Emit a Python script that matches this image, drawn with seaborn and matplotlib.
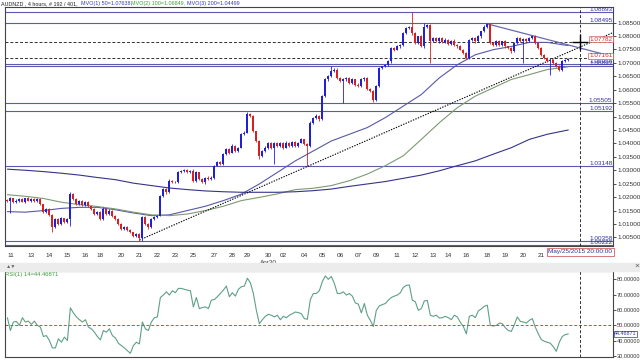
import numpy as np
import pandas as pd
import seaborn as sns
import matplotlib.pyplot as plt
from matplotlib.patches import Rectangle

# 4h candles AUDNZD (close, upper/lower wick in pips)
first_open = 1.0190
closes = [
    1.0187, 1.0195, 1.0181, 1.0187, 1.0193, 1.0183, 1.0195, 1.0187, 1.0193, 1.0184,
    1.0193, 1.0174, 1.0144, 1.0156, 1.0134, 1.0088, 1.0119, 1.0100, 1.0121, 1.0107,
    1.0119, 1.0212, 1.0193, 1.0174, 1.0187, 1.0171, 1.0181, 1.0168, 1.0156, 1.0138,
    1.0144, 1.0119, 1.0156, 1.0138, 1.0150, 1.0131, 1.0119, 1.0100, 1.0082, 1.0088,
    1.0076, 1.0069, 1.0057, 1.0063, 1.0047, 1.0125, 1.0100, 1.0088, 1.0119, 1.0125,
    1.0131, 1.0205, 1.0230, 1.0218, 1.0261, 1.0255, 1.0257, 1.0292, 1.0298, 1.0302,
    1.0292, 1.0298, 1.0261, 1.0292, 1.0267, 1.0255, 1.0273, 1.0267, 1.0273, 1.0317,
    1.0329, 1.0323, 1.0360, 1.0378, 1.0366, 1.0391, 1.0372, 1.0384, 1.0434, 1.0440,
    1.0508, 1.0502, 1.0446, 1.0409, 1.0354, 1.0372, 1.0384, 1.0403, 1.0384, 1.0403,
    1.0391, 1.0403, 1.0384, 1.0403, 1.0391, 1.0405, 1.0391, 1.0403, 1.0415, 1.0397,
    1.0391, 1.0477, 1.0496, 1.0502, 1.0489, 1.0576, 1.0638, 1.0650, 1.0668, 1.0675,
    1.0644, 1.0631, 1.0638, 1.0644, 1.0625, 1.0638, 1.0619, 1.0613, 1.0638, 1.0644,
    1.0601, 1.0594, 1.0563, 1.0613, 1.0681, 1.0687, 1.0693, 1.0706, 1.0755, 1.0749,
    1.0761, 1.0767, 1.0810, 1.0829, 1.0835, 1.0810, 1.0773, 1.0798, 1.0761, 1.0835,
    1.0841, 1.0780, 1.0792, 1.0780, 1.0792, 1.0776, 1.0786, 1.0771, 1.0783, 1.0767,
    1.0761, 1.0749, 1.0736, 1.0718, 1.0786, 1.0792, 1.0780, 1.0798, 1.0817, 1.0835,
    1.0845, 1.0773, 1.0767, 1.0780, 1.0767, 1.0780, 1.0761, 1.0755, 1.0743, 1.0773,
    1.0792, 1.0780, 1.0788, 1.0780, 1.0792, 1.0798, 1.0773, 1.0755, 1.0730, 1.0718,
    1.0706, 1.0712, 1.0699, 1.0687, 1.0675, 1.0706, 1.0712, 1.0714,
]
upper_pips = [
    3, 4, 2, 5, 3, 4, 3, 5, 2, 4, 4, 3, 2, 5, 3, 2, 4, 3, 5, 3,
    3, 8, 5, 3, 4, 2, 4, 3, 2, 4, 4, 3, 6, 3, 4, 2, 3, 4, 3, 4,
    3, 4, 2, 4, 3, 4, 5, 3, 4, 3, 3, 4, 5, 3, 6, 3, 4, 5, 4, 3,
    4, 3, 5, 4, 3, 4, 3, 5, 4, 3, 4, 5, 3, 4, 3, 5, 4, 3, 4, 5,
    9, 4, 3, 2, 3, 4, 5, 3, 4, 3, 3, 4, 3, 5, 3, 4, 3, 4, 5, 3,
    3, 5, 4, 6, 3, 4, 5, 3, 19, 4, 4, 3, 5, 4, 3, 4, 3, 5, 4, 3,
    3, 4, 3, 5, 4, 3, 4, 3, 5, 4, 4, 3, 5, 4, 3, 55, 4, 3, 5, 13,
    4, 3, 5, 3, 4, 3, 5, 4, 3, 4, 3, 4, 3, 5, 4, 3, 4, 5, 3, 4,
    3, 4, 3, 5, 4, 3, 4, 3, 5, 4, 4, 3, 5, 3, 4, 3, 5, 4, 3, 4,
    3, 4, 3, 5, 4, 3, 4, 3,
]
lower_pips = [
    4, 45, 3, 4, 5, 3, 4, 3, 5, 4, 3, 4, 5, 3, 6, 18, 4, 5, 3, 4,
    4, 25, 3, 4, 3, 5, 3, 4, 5, 3, 3, 5, 3, 4, 3, 5, 4, 3, 5, 4,
    4, 3, 5, 4, 9, 9, 3, 5, 4, 3, 4, 3, 4, 5, 3, 4, 3, 4, 3, 4,
    3, 4, 3, 5, 4, 3, 5, 3, 4, 5, 3, 4, 5, 3, 4, 3, 5, 4, 3, 4,
    3, 5, 4, 3, 13, 4, 3, 5, 4, 59, 4, 3, 5, 3, 4, 3, 5, 4, 3, 4,
    75, 4, 3, 4, 5, 3, 4, 5, 3, 4, 4, 3, 80, 4, 3, 5, 4, 3, 4, 5,
    4, 3, 9, 4, 3, 5, 4, 3, 5, 4, 3, 5, 4, 3, 4, 5, 3, 4, 3, 5,
    4, 81, 3, 4, 5, 3, 4, 3, 5, 4, 4, 3, 5, 4, 3, 4, 5, 3, 4, 3,
    5, 4, 3, 4, 5, 3, 4, 3, 5, 4, 3, 4, 80, 4, 3, 5, 4, 3, 4, 5,
    4, 50, 4, 3, 7, 4, 3, 4,
]

# moving averages read every day (candle index, value)
ma_idx = [0, 6, 12, 18, 24, 30, 36, 42, 48, 54, 60, 66, 72, 78, 84, 90,
          96, 102, 108, 114, 120, 126, 132, 138, 144, 150, 156, 162, 168, 174, 180, 187]
ma50 = [1.0146, 1.0144, 1.0150, 1.0158, 1.0162, 1.0162, 1.0153, 1.0141, 1.0131, 1.0134,
        1.0150, 1.0166, 1.0187, 1.0211, 1.0249, 1.0292, 1.0335, 1.0372, 1.0409, 1.0434,
        1.0459, 1.0496, 1.0539, 1.0582, 1.0644, 1.0693, 1.0730, 1.0749, 1.0761, 1.0776,
        1.0776, 1.0764]
ma100 = [1.0209, 1.0203, 1.0195, 1.0181, 1.0172, 1.0165, 1.0156, 1.0144, 1.0134, 1.0131,
         1.0137, 1.0150, 1.0166, 1.0187, 1.0199, 1.0212, 1.0228, 1.0233, 1.0243, 1.0261,
         1.0286, 1.0317, 1.0354, 1.0415, 1.0477, 1.0533, 1.0576, 1.0607, 1.0638, 1.0656,
         1.0675, 1.0685]
ma200 = [1.0304, 1.0300, 1.0295, 1.0289, 1.0282, 1.0273, 1.0265, 1.0252, 1.0243, 1.0234,
         1.0228, 1.0223, 1.0220, 1.0218, 1.0218, 1.0218, 1.0220, 1.0224, 1.0230, 1.0240,
         1.0249, 1.0258, 1.0270, 1.0282, 1.0298, 1.0317, 1.0335, 1.0360, 1.0384, 1.0415,
         1.0434, 1.0450]

rsi = [
    55.0, 46.7, 52.2, 52.6, 50.0, 55.0, 52.2, 52.8, 50.7, 52.8,
    50.0, 48.9, 42.8, 43.4, 40.2, 35.4, 35.4, 41.3, 39.1, 42.4,
    40.2, 61.4, 58.1, 55.5, 53.7, 52.2, 53.7, 48.9, 47.8, 45.6,
    42.8, 40.6, 46.7, 45.6, 47.8, 43.4, 41.9, 38.4, 36.9, 35.4,
    33.6, 31.9, 36.9, 39.1, 38.0, 52.2, 47.8, 46.7, 52.2, 55.0,
    55.5, 68.1, 69.7, 71.8, 69.7, 72.5, 71.2, 74.0, 74.0, 73.4,
    72.9, 72.5, 62.0, 68.1, 60.9, 61.6, 62.0, 60.9, 66.4, 66.8,
    68.6, 70.7, 72.9, 75.5, 68.6, 71.2, 69.0, 73.4, 75.1, 75.5,
    80.6, 77.7, 70.7, 59.8, 51.1, 53.7, 55.9, 57.2, 56.6, 55.5,
    56.6, 53.7, 55.9, 55.0, 56.6, 57.6, 58.7, 58.3, 57.6, 54.4,
    54.0, 66.8, 70.7, 70.7, 72.5, 78.5, 82.1, 79.9, 81.7, 77.3,
    70.7, 70.7, 71.8, 69.7, 70.7, 69.0, 64.6, 63.8, 58.1, 64.2,
    56.6, 53.3, 49.3, 59.8, 62.7, 63.5, 64.2, 66.4, 68.1, 69.0,
    69.7, 71.2, 74.7, 76.0, 76.2, 66.4, 65.3, 59.8, 60.9, 65.9,
    66.2, 56.6, 55.9, 56.6, 54.8, 55.0, 55.9, 55.0, 53.7, 56.6,
    55.5, 52.0, 49.3, 44.5, 55.9, 56.6, 55.0, 59.4, 60.7, 62.4,
    63.1, 50.0, 49.6, 50.0, 51.5, 51.1, 48.5, 46.7, 46.1, 50.4,
    55.5, 52.6, 52.2, 51.5, 53.3, 54.4, 48.9, 44.5, 40.8, 39.7,
    39.1, 38.4, 36.2, 33.2, 39.1, 42.8, 44.1, 44.46871,
]

# drawn objects
blue_levels = [1.08893, 1.08495, 1.06958, 1.06893, 1.05505, 1.05192, 1.03148, 1.00358, 1.00222]
red_levels = [1.07782, 1.07161]
up_trend = ([44, 203], [1.0040, 1.0818])
down_trend = ([160, 203], [1.0845, 1.0720])
cursor_idx = 191

tick_pos = [1, 8, 14, 20, 26, 31, 38, 44, 50, 56, 62, 69, 75, 80, 87, 92, 99, 105,
            111, 117, 123, 130, 136, 142, 147, 153, 160, 166, 172, 178]
tick_lab = ['11', '13', '14', '15', '16', '18', '20', '21', '22', '23', '25', '27', '28',
            '29', '30', '02', '04', '05', '06', '07', '09', '11', '12', '13', '14', '16',
            '18', '19', '20', '21']

df = pd.DataFrame({'close': closes, 'up': upper_pips, 'dn': lower_pips})
df['i'] = np.arange(len(df))
df['open'] = df['close'].shift(1).fillna(first_open)
df['high'] = df[['open', 'close']].max(axis=1) + df['up'] * 1e-4
df['low'] = df[['open', 'close']].min(axis=1) - df['dn'] * 1e-4
df['color'] = np.where(df['close'] >= df['open'], '#2020d8', '#d82020')

ma_df = pd.DataFrame({'i': ma_idx, 'ma50': ma50, 'ma100': ma100, 'ma200': ma200})
rsi_df = pd.DataFrame({'i': np.arange(len(rsi)), 'rsi': rsi})

sns.set_style('white')
plt.rcParams['font.family'] = ['Liberation Sans', 'DejaVu Sans']

fig = plt.figure(figsize=(6.4, 3.6), dpi=100)
fig.patches.append(Rectangle((0, 1 - 271 / 360), 1, 8 / 360, transform=fig.transFigure,
                             color='#ececec', zorder=0))
ax = fig.add_axes([5 / 640, 1 - 246 / 360, 608 / 640, 239 / 360])
ax2 = fig.add_axes([5 / 640, 1 - 357 / 360, 608 / 640, 86 / 360])
xlim = (-0.8, 201.9)

# candles
ax.vlines(df['i'], df['low'], df['high'], colors=df['color'], lw=0.6, zorder=3)
ax.bar(df['i'], (df['close'] - df['open']).abs().clip(lower=0.00008),
       bottom=df[['open', 'close']].min(axis=1), width=0.7, color=df['color'],
       lw=0, zorder=4)

# moving averages
sns.lineplot(data=ma_df, x='i', y='ma50', ax=ax, color='#5858a8', lw=0.8, zorder=2)
sns.lineplot(data=ma_df, x='i', y='ma100', ax=ax, color='#7c9a72', lw=0.8, zorder=2)
sns.lineplot(data=ma_df, x='i', y='ma200', ax=ax, color='#34348a', lw=0.8, zorder=2)

# levels
for lv in blue_levels:
    ax.axhline(lv, color='#5a5ab0', lw=0.8, zorder=1)
    ax.text(0.999, lv, f'{lv:.5f}', transform=ax.get_yaxis_transform(), ha='right',
            va='bottom', fontsize=4.6, color='#3030a8')
for lv in red_levels:
    ax.axhline(lv, color='#303030', lw=0.7, ls=(0, (3, 2)), zorder=1)
    ax.text(0.999, lv, f'{lv:.5f}', transform=ax.get_yaxis_transform(), ha='right',
            va='bottom', fontsize=4.6, color='#d03030',
            bbox=dict(boxstyle='square,pad=0.1', fc='white', ec='#d06060', lw=0.5))

ax.plot(*up_trend, color='black', lw=0.8, ls=(0, (1.2, 1.2)), zorder=2)
ax.plot(*down_trend, color='#6a6ab0', lw=0.9, zorder=2)
ax.axvline(cursor_idx, color='#303030', lw=0.7, ls=(0, (3, 2)), zorder=5)
ax.plot([cursor_idx], [red_levels[0]], marker='+', ms=11, mew=1.0, color='black', zorder=6)

ax.set_xlim(*xlim)
ax.set_ylim(1.0018, 1.09078)
ax.set_xlabel('')
ax.set_ylabel('')
ax.set_xticks(tick_pos)
ax.set_xticklabels(tick_lab)
ax.yaxis.tick_right()
ax.set_yticks(np.arange(1.005, 1.0851, 0.005))
ax.yaxis.set_major_formatter(plt.FormatStrFormatter('%.5f'))
ax.tick_params(axis='both', labelsize=4.6, length=2, width=0.6, pad=1, colors='#333333')
ax.tick_params(axis='x', pad=3)
ax.text(tick_pos[14], -0.058, 'Apr30', transform=ax.get_xaxis_transform(), ha='center',
        va='top', fontsize=4.6, color='#333333')
ax.text(cursor_idx, -0.014, 'May/25/2015 20:00:00', transform=ax.get_xaxis_transform(),
        ha='center', va='top', fontsize=4.6, color='#3030a8', zorder=7,
        bbox=dict(boxstyle='square,pad=0.25', fc='white', ec='#d06060', lw=0.6))

# RSI panel
sns.lineplot(data=rsi_df, x='i', y='rsi', ax=ax2, color='#5f9f8a', lw=0.8)
ax2.axhline(50, color='#d04848', lw=0.7, ls=(0, (3, 2)))
ax2.axvline(cursor_idx, color='#303030', lw=0.7, ls=(0, (3, 2)))
ax2.set_xlim(*xlim)
ax2.set_ylim(29.5, 85.3)
ax2.set_xticks([])
ax2.set_xlabel('')
ax2.set_ylabel('')
ax2.yaxis.tick_right()
ax2.set_yticks([30, 40, 50, 60, 70, 80])
ax2.yaxis.set_major_formatter(plt.FormatStrFormatter('%.5f'))
ax2.tick_params(axis='y', labelsize=4.1, length=2, width=0.6, pad=1, colors='#333333')
ax2.text(1.002, rsi[-1], f'{rsi[-1]:.5f}', transform=ax2.get_yaxis_transform(),
         ha='left', va='center', fontsize=3.9, color='#3030a8',
         bbox=dict(boxstyle='square,pad=0.1', fc='white', ec='#3030a8', lw=0.5))
ax2.text(0.0, 0.985, 'RSI(1) 14=44.46871', transform=ax2.transAxes, ha='left', va='top',
         fontsize=4.2, color='#3a9a3a')

for a in (ax, ax2):
    for s in a.spines.values():
        s.set_color('#444444')
        s.set_linewidth(0.8)

# header
hy = 1 - 3.5 / 360
fig.text(1 / 640, hy, 'AUDNZD , 4 hours, # 192 / 401,', fontsize=3.9, color='#222222', va='center')
fig.text(81 / 640, hy, 'MVO(1) 50=1.07638,', fontsize=3.9, color='#3838c0', va='center')
fig.text(131 / 640, hy, 'MVO(2) 100=1.06849,', fontsize=3.9, color='#38a038', va='center')
fig.text(187 / 640, hy, 'MVO(3) 200=1.04499', fontsize=3.9, color='#3838c0', va='center')
fig.text(6 / 640, 1 - 266 / 360, '\u25b2\u25bc', fontsize=3.8, color='#666666', va='center')
fig.text(634 / 640, 1 - 266 / 360, '\u00d7', fontsize=6, color='#555555', va='center')

fig.savefig('out.png', dpi=100, facecolor='white')
